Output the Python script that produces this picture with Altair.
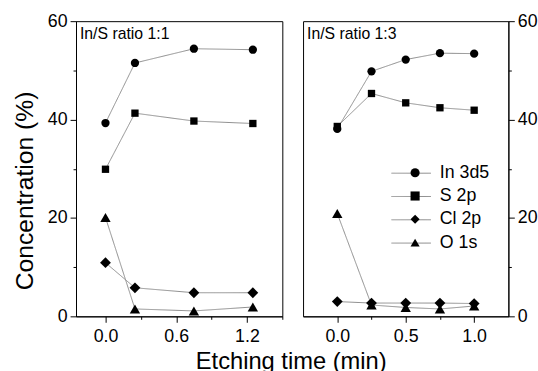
import altair as alt
import pandas as pd

F = "Liberation Sans"

series = ["In 3d5", "S 2p", "Cl 2p", "O 1s"]
shapes = ["circle", "square", "diamond", "triangle-up"]
line_keys = ["L1", "L2", "L3", "L4"]

# In/S ratio 1:1
t_11 = [0.0, 0.25, 0.75, 1.25]
in_11 = [39.3, 51.5, 54.4, 54.2]
s_11 = [29.9, 41.3, 39.7, 39.2]
cl_11 = [10.9, 5.8, 4.8, 4.8]
o_11 = [20.1, 1.5, 1.1, 1.9]

# In/S ratio 1:3
t_13 = [0.0, 0.25, 0.5, 0.75, 1.0]
in_13 = [38.1, 49.8, 52.2, 53.5, 53.4]
s_13 = [38.6, 45.3, 43.4, 42.4, 41.9]
cl_13 = [3.0, 2.7, 2.7, 2.7, 2.6]
o_13 = [20.9, 2.3, 1.8, 1.5, 2.1]

panel_titles = ["In/S ratio 1:1", "In/S ratio 1:3"]
y_ticks = [0, 10, 20, 30, 40, 50, 60]
x_ticks_11 = [0.0, 0.3, 0.6, 0.9, 1.2, 1.5]
x_ticks_13 = [0.0, 0.25, 0.5, 0.75, 1.0]
marker_sizes = [70, 55, 120, 110]


def long_df(t, cols):
    rows = []
    for name, key, vals in zip(series, line_keys, cols):
        for tt, v in zip(t, vals):
            rows.append({"t": tt, "v": v, "series": name, "key": key})
    return pd.DataFrame(rows)


df11 = long_df(t_11, [in_11, s_11, cl_11, o_11])
df13 = long_df(t_13, [in_13, s_13, cl_13, o_13])

shape_legend = alt.Legend(
    title=None, orient="none", legendX=104.5, legendY=144.5, padding=0,
    labelFont=F, labelFontSize=18, labelColor="black", labelOffset=16,
    symbolSize=85, rowPadding=5.6, symbolFillColor="black", symbolStrokeWidth=0,
    symbolOpacity=1, zindex=2,
)
line_legend = alt.Legend(
    title=None, orient="none", legendX=99, legendY=143.5, padding=0,
    labelFont=F, labelFontSize=18, labelExpr="''", labelOffset=0,
    symbolType="M-2,0L2,0", symbolSize=400, rowPadding=3.6,
    symbolStrokeColor="#8c8c8c", symbolStrokeWidth=1, symbolFillColor="transparent",
    zindex=1,
)


def panel(df, xdom, xticks, major_test, title, left, show_legend):
    ycond = "datum.value % 20 == 0"
    yaxis = alt.Axis(
        orient="left" if left else "right",
        values=y_ticks,
        labelExpr=f"{ycond} ? datum.label : ''",
        tickSize={"condition": {"test": ycond, "value": 6}, "value": 3},
        title="Concentration (%)" if left else None,
        titleFont=F, titleFontSize=25, titleFontWeight="normal", titleColor="black",
        titlePadding=10, titleY=171.5,
        labelFont=F, labelFontSize=18, labelColor="black", labelPadding=3,
        domainColor="black", tickColor="black", grid=False,
    )
    xaxis = alt.Axis(
        values=xticks,
        labelExpr=f"{major_test} ? format(datum.value, '.1f') : ''",
        tickSize={"condition": {"test": major_test, "value": 6}, "value": 3},
        title="Etching time (min)" if left else None,
        titleFont=F, titleFontSize=24, titleFontWeight="normal", titleColor="black",
        titleX=217.5, titlePadding=4,
        labelFont=F, labelFontSize=18, labelColor="black", labelPadding=6,
        labelFlush=False,
        domainColor="black", tickColor="black", grid=False,
    )
    base = alt.Chart(df).encode(
        x=alt.X("t:Q", scale=alt.Scale(domain=xdom, nice=False, zero=False), axis=xaxis),
        y=alt.Y("v:Q", scale=alt.Scale(domain=[0, 60], nice=False), axis=yaxis),
    )
    lines = base.mark_line(color="#8c8c8c", strokeWidth=1).encode(
        strokeDash=alt.StrokeDash("key:N",
                                  scale=alt.Scale(domain=line_keys, range=[[1, 0]] * 4),
                                  legend=line_legend if show_legend else None),
    )
    layers = [lines]
    for s, sz in zip(series, marker_sizes):
        layers.append(
            base.transform_filter(alt.datum.series == s)
            .mark_point(filled=True, color="black", opacity=1, size=sz)
            .encode(shape=alt.Shape("series:N",
                                    scale=alt.Scale(domain=series, range=shapes),
                                    legend=shape_legend if show_legend else None))
        )
    label = alt.Chart(alt.Data(values=[{"t": title}])).mark_text(
        align="left", baseline="alphabetic", font=F, fontSize=16, color="black"
    ).encode(x=alt.value(4), y=alt.value(18), text="t:N")
    layers.append(label)
    return alt.layer(*layers).properties(width=209 if left else 208, height=299)


p1 = panel(df11, [-0.25, 1.5], x_ticks_11, "round(datum.value*10) % 6 == 0", panel_titles[0], True, False)
p2 = panel(df13, [-0.25, 1.25], x_ticks_13, "round(datum.value*4) % 2 == 0", panel_titles[1], False, True)

chart = alt.hconcat(p1, p2, spacing=21, bounds="flush").resolve_scale(
    x="independent", y="independent", shape="independent", strokeDash="independent",
).properties(
    padding={"left": 12, "top": 9, "right": 0, "bottom": 0},
    background="white",
).configure_view(stroke="black", strokeWidth=1)

chart.save("out.html", embed_options={"renderer": "svg", "actions": False})
